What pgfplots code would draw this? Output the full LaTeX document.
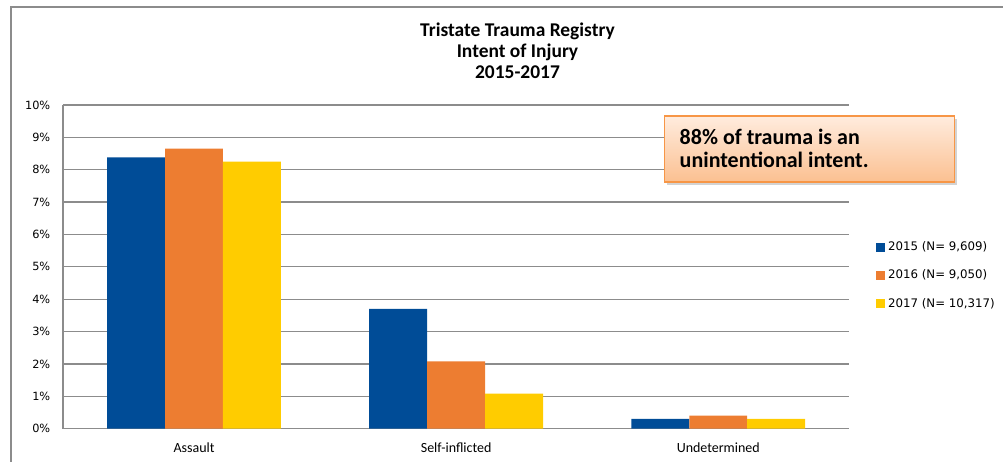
\documentclass[border=0pt]{standalone}
\usepackage{pgfplots}
\pgfplotsset{compat=1.18}
\usepackage{fontspec}
\setmainfont{Carlito}
\newfontfamily\tickfont{DejaVu Sans}
\usetikzlibrary{shadows}
\definecolor{c15}{RGB}{0,76,151}
\definecolor{c16}{RGB}{237,125,49}
\definecolor{c17}{RGB}{255,204,0}
\definecolor{gridc}{RGB}{140,140,140}
\definecolor{boxtop}{RGB}{255,236,222}
\definecolor{boxbot}{RGB}{251,192,145}
\definecolor{boxline}{RGB}{247,150,70}
\begin{document}
\begin{tikzpicture}[x=0.75pt,y=0.75pt]
% canvas 1004 x 462 px, origin bottom-left
\path (0,0) rectangle (1004,462);
\draw[gridc, line width=1.2pt] (11,0) -- (11,455) -- (1004,455);
\begin{axis}[
  at={(63*0.75pt,33*0.75pt)}, anchor=south west,
  scale only axis,
  width=787*0.75pt, height=324*0.75pt,
  ybar=0pt,
  bar width=0.221,
  xmin=-0.5, xmax=2.5,
  ymin=0, ymax=10,
  xtick={0,1,2},
  xticklabels={Assault, Self-inflicted, Undetermined},
  ytick={0,1,...,10},
  /pgf/number format/assume math mode=true,
  yticklabel={\pgfmathprintnumber{\tick}\%},
  yticklabel style={font=\tickfont\fontsize{8.5}{10}\selectfont, xshift=-6pt},
  xticklabel style={font=\fontsize{10.5}{13}\selectfont, yshift=-7pt},
  major tick length=0pt,
  axis x line*=bottom, axis y line*=left,
  axis line style={gridc, line width=0.9pt, -},
  ymajorgrids, grid style={gridc, line width=0.9pt},
  title={Tristate Trauma Registry\\Intent of Injury\\2015-2017},
  title style={font=\bfseries\fontsize{14.6}{16}\selectfont, align=center,
    at={(0.578,1)}, yshift=10pt},
  legend style={at={(1.029,0.595)}, anchor=north west, draw=none, fill=none,
    font=\tickfont\fontsize{8.85}{10}\selectfont, row sep=9pt,
    legend cell align=left},
  legend image code/.code={\fill[#1] (1pt,-3.4pt) rectangle (7.8pt,3.4pt);},
]
\addplot[fill=c15, draw=none, bar shift=-0.221] coordinates {(0,8.38) (1,3.70) (2,0.30)};
\addplot[fill=c16, draw=none, bar shift=0] coordinates {(0,8.65) (1,2.08) (2,0.40)};
\addplot[fill=c17, draw=none, bar shift=0.221] coordinates {(0,8.25) (1,1.08) (2,0.30)};
\legend{2015 (N= 9{,}609), 2016 (N= 9{,}050), 2017 (N= 10{,}317)}
\end{axis}
\shade[top color=boxtop, bottom color=boxbot, draw=boxline, line width=1pt,
  drop shadow={shadow xshift=2pt, shadow yshift=-2pt, opacity=0.35}]
  (665,280) rectangle (955,346);
\node[anchor=west, align=left, font=\bfseries\fontsize{16.5}{17.3}\selectfont,
  inner sep=0pt] at (680,313.5) {88\% of trauma is an\\unintentional intent.};
\end{tikzpicture}
\end{document}
